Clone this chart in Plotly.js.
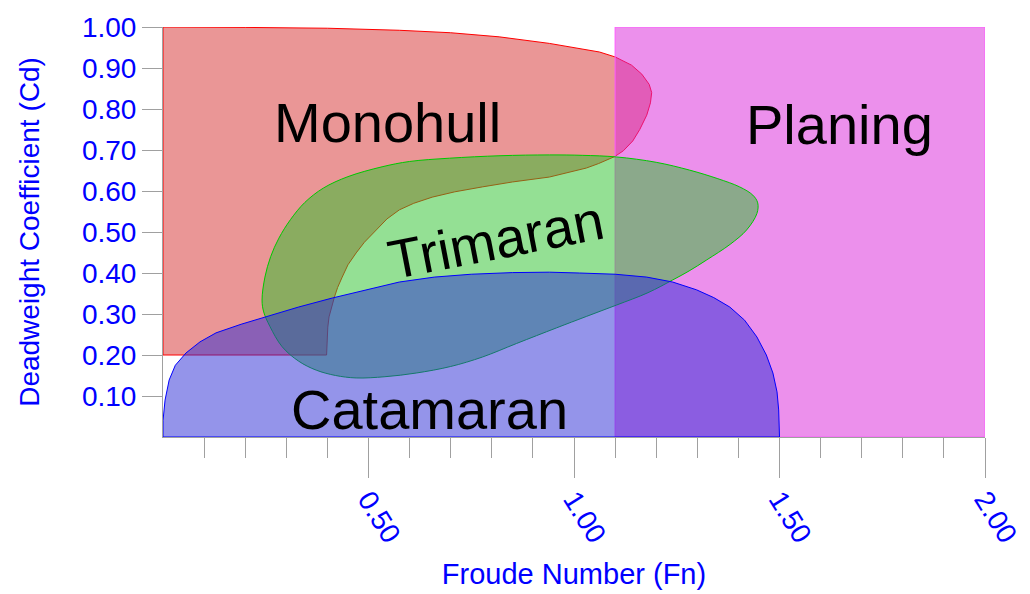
<!DOCTYPE html>
<html>
<head>
<meta charset="utf-8">
<script src="https://cdn.plot.ly/plotly-3.0.1.min.js"></script>
<style>html,body{margin:0;padding:0;background:#fff;}#chart{width:1030px;height:594px;}</style>
</head>
<body>
<div id="chart"></div>
<script>
// Region names
const regions = ["Monohull", "Trimaran", "Catamaran", "Planing"];

// Monohull boundary (Froude number, deadweight coefficient)
const monohullFn = [0,0,0.2,0.4,0.575,0.7,0.818,0.94,1.062,1.10,1.14,1.165,1.183,1.189,1.186,1.177,1.16,1.143,1.12,1.099,1.06,1.03,0.94,0.85,0.777,0.71,0.655,0.61,0.575,0.545,0.519,0.49,0.47,0.45,0.436,0.425,0.417,0.41,0.404,0.401,0.40,0.399,0.398,0];
const monohullCd = [0.2,1.0,0.999,0.997,0.992,0.986,0.976,0.96,0.939,0.927,0.907,0.885,0.86,0.84,0.815,0.785,0.75,0.722,0.698,0.684,0.667,0.656,0.634,0.622,0.61,0.598,0.585,0.57,0.554,0.532,0.505,0.475,0.449,0.42,0.39,0.365,0.341,0.317,0.293,0.268,0.244,0.22,0.2,0.2];

// Trimaran boundary
const trimaranFn = [0.241,0.248,0.262,0.282,0.31,0.345,0.39,0.45,0.533,0.6,0.697,0.82,0.94,1.02,1.104,1.2,1.281,1.35,1.403,1.435,1.447,1.445,1.42,1.38,1.323,1.28,1.24,1.18,1.104,1.03,0.957,0.86,0.777,0.7,0.616,0.54,0.47,0.42,0.373,0.33,0.29,0.26,0.245,0.241];
const trimaranCd = [0.334,0.39,0.44,0.485,0.53,0.572,0.607,0.635,0.659,0.672,0.68,0.686,0.688,0.687,0.683,0.67,0.651,0.63,0.61,0.59,0.571,0.545,0.505,0.47,0.432,0.405,0.383,0.352,0.322,0.294,0.266,0.228,0.195,0.172,0.156,0.147,0.144,0.15,0.163,0.185,0.22,0.27,0.305,0.334];

// Catamaran boundary
const catamaranFn = [0,0,0.005,0.015,0.03,0.056,0.09,0.129,0.19,0.25,0.33,0.412,0.5,0.575,0.66,0.75,0.85,0.94,1.013,1.1,1.177,1.24,1.298,1.34,1.379,1.415,1.445,1.468,1.484,1.494,1.498,1.5,1.5,0];
const catamaranCd = [0,0.04,0.09,0.139,0.175,0.205,0.232,0.254,0.275,0.293,0.317,0.339,0.36,0.378,0.39,0.397,0.401,0.402,0.4,0.397,0.39,0.378,0.359,0.34,0.317,0.285,0.244,0.2,0.156,0.11,0.066,0.02,0,0];

// Planing region
const planingFn = [1.1,1.1,2.0,2.0,1.1];
const planingCd = [0,1.0,1.0,0,0];

// Axis ticks
const xTickVals = [0.5,1.0,1.5,2.0];
const xTickText = ["0.50","1.00","1.50","2.00"];
const xMinorVals = [0.1,0.2,0.3,0.4,0.6,0.7,0.8,0.9,1.1,1.2,1.3,1.4,1.6,1.7,1.8,1.9];
const yTickVals = [0.1,0.2,0.3,0.4,0.5,0.6,0.7,0.8,0.9,1.0];
const yTickText = ["0.10","0.20","0.30","0.40","0.50","0.60","0.70","0.80","0.90","1.00"];

function region(x, y, fill, line, shape) {
  return {x: x, y: y, type: "scatter", mode: "lines", fill: "toself",
    fillcolor: fill, line: {color: line, width: 1, shape: shape || "linear"},
    hoverinfo: "skip"};
}

const traces = [
  region(monohullFn, monohullCd, "rgba(214,45,45,0.5)", "rgb(255,0,0)"),
  region(planingFn, planingCd, "rgba(218,34,218,0.5)", "rgb(255,90,255)"),
  region(trimaranFn, trimaranCd, "rgba(41,193,41,0.5)", "rgb(0,200,0)", "spline"),
  region(catamaranFn, catamaranCd, "rgba(41,41,213,0.5)", "rgb(0,0,255)")
];

const bigFont = {family: "Liberation Sans, Arial, sans-serif", size: 56, color: "#000"};
const blue = "rgb(0,0,255)";
const grey = "#a0a0a0";

const layout = {
  width: 1030, height: 594,
  margin: {l: 163, r: 45, t: 27, b: 157},
  paper_bgcolor: "#fff", plot_bgcolor: "#fff",
  showlegend: false,
  font: {family: "Liberation Sans, Arial, sans-serif"},
  xaxis: {
    range: [0, 2], showgrid: false, zeroline: false,
    showline: true, linecolor: grey, linewidth: 1,
    tickmode: "array", tickvals: xTickVals, ticktext: xTickText,
    ticks: "outside", ticklen: 40, tickcolor: grey, tickwidth: 1,
    tickangle: 58, ticklabelstandoff: -6,
    tickfont: {size: 28, color: blue},
    minor: {tickmode: "array", tickvals: xMinorVals, ticks: "outside", ticklen: 20, tickcolor: grey, tickwidth: 1, showgrid: false},
    title: {text: "Froude Number (Fn)", font: {size: 29, color: blue}, standoff: 16}
  },
  yaxis: {
    range: [0, 1], showgrid: false, zeroline: false,
    showline: true, linecolor: grey, linewidth: 1,
    tickmode: "array", tickvals: yTickVals, ticktext: yTickText,
    ticks: "outside", ticklen: 20, tickcolor: grey, tickwidth: 1,
    ticklabelstandoff: 0,
    tickfont: {size: 28, color: blue},
    title: {text: "Deadweight Coefficient (Cd)", font: {size: 28, color: blue}, standoff: 34}
  },
  annotations: [
    {x: 0.545, y: 0.768, xref: "x", yref: "y", text: regions[0], showarrow: false, font: bigFont},
    {x: 1.647, y: 0.763, xref: "x", yref: "y", text: regions[3], showarrow: false, font: bigFont},
    {x: 0.811, y: 0.48, xref: "x", yref: "y", text: regions[1], showarrow: false, font: Object.assign({}, bigFont, {size: 55}), textangle: -11},
    {x: 0.648, y: 0.066, xref: "x", yref: "y", text: regions[2], showarrow: false, font: bigFont}
  ]
};

Plotly.newPlot("chart", traces, layout, {displayModeBar: false, staticPlot: true});
</script>
</body>
</html>
